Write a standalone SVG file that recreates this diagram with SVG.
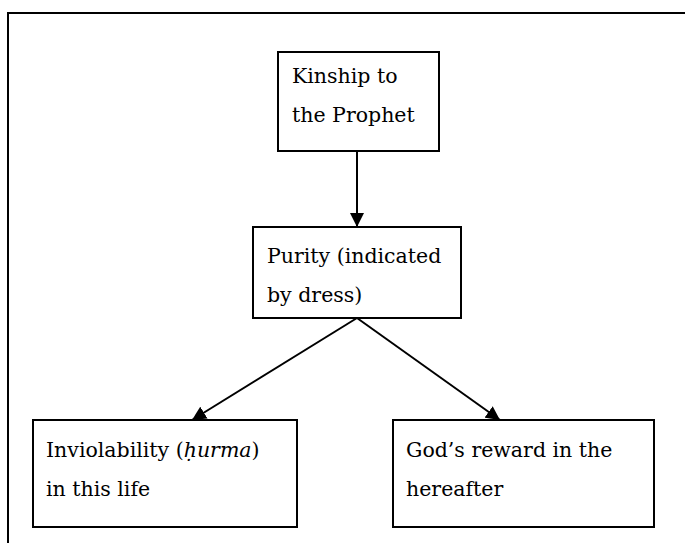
<svg xmlns="http://www.w3.org/2000/svg" width="685" height="543" viewBox="0 0 685 543">
<defs>
<marker id="ah" markerWidth="14" markerHeight="14" refX="14" refY="7" orient="auto" markerUnits="userSpaceOnUse">
<path d="M0,0 L14,7 L0,14 Z" fill="#000"/>
</marker>
<style>
.box{fill:#fff;stroke:#000;stroke-width:2}
.t{font-family:"DejaVu Serif","Liberation Serif",serif;font-size:20.5px;fill:#000}
.c{stroke:#000;stroke-width:2;fill:none;marker-end:url(#ah)}
</style>
</defs>
<rect width="685" height="543" fill="#fff"/>
<path d="M8,543 L8,13 L685,13" fill="none" stroke="#000" stroke-width="2"/>
<g id="n1">
<rect class="box" x="278" y="52" width="161" height="99"/>
<text class="t" x="292" y="83">Kinship to</text>
<text class="t" x="292" y="122">the Prophet</text>
</g>
<g id="n2">
<rect class="box" x="253" y="227" width="208" height="91"/>
<text class="t" x="267" y="263">Purity (indicated</text>
<text class="t" x="267" y="302">by dress)</text>
</g>
<g id="n3">
<rect class="box" x="33" y="420" width="264" height="107"/>
<text class="t" x="46" y="457">Inviolability (<tspan font-style="italic">ḥurma</tspan>)</text>
<text class="t" x="46" y="496">in this life</text>
</g>
<g id="n4">
<rect class="box" x="393" y="420" width="261" height="107"/>
<text class="t" x="406" y="457">God’s reward in the</text>
<text class="t" x="406" y="496">hereafter</text>
</g>
<g id="connectors">
<line class="c" x1="357" y1="152" x2="357" y2="227"/>
<line class="c" x1="357" y1="318" x2="192" y2="420"/>
<line class="c" x1="357" y1="318" x2="500" y2="420"/>
</g>
</svg>
